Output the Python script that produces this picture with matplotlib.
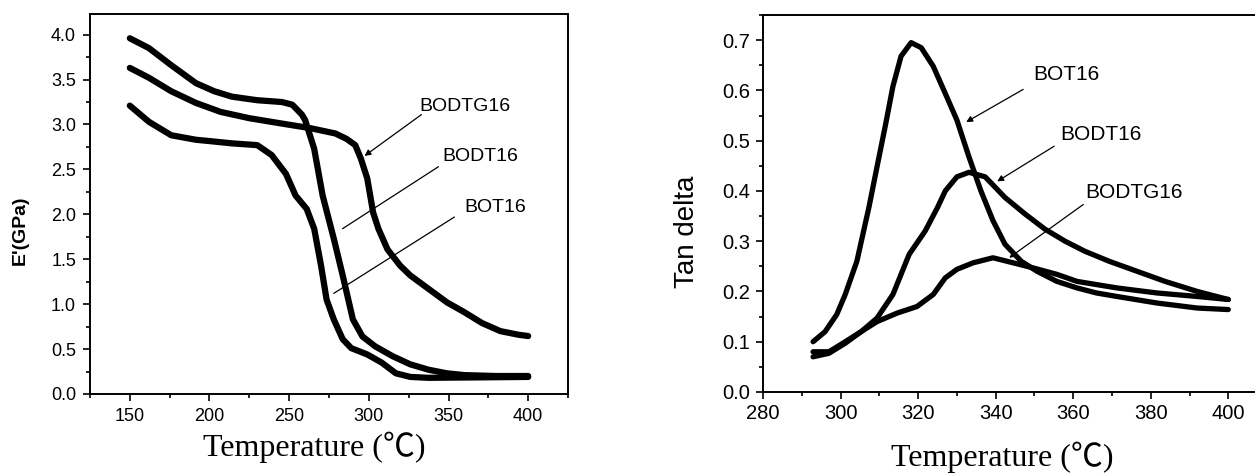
#!/usr/bin/env python3

import numpy as np
import matplotlib
matplotlib.use("Agg")
import matplotlib.pyplot as plt
from matplotlib.ticker import MultipleLocator, FormatStrFormatter

# ---- storage modulus E' (GPa) vs temperature (C) ----
bodt16_t = [150, 162, 176, 191.5, 203, 214, 230, 245.5, 252, 258, 260, 265.7,
            271, 278, 283.6, 290, 296, 304, 315, 326, 337.5, 349, 360, 380, 400]
bodt16_e = [3.96, 3.85, 3.66, 3.46, 3.37, 3.31, 3.27, 3.25, 3.22, 3.11, 3.05, 2.73,
            2.21, 1.73, 1.32, 0.83, 0.64, 0.53, 0.42, 0.33, 0.27, 0.23, 0.21, 0.20, 0.20]

bodtg16_t = [150, 162, 176, 191.5, 207, 225, 245.5, 263, 279, 286, 291.5, 295,
             299, 302.7, 306, 311.7, 319.6, 326, 337.5, 349, 360, 371, 382.5, 393.7, 400]
bodtg16_e = [3.63, 3.52, 3.37, 3.24, 3.14, 3.07, 3.01, 2.96, 2.90, 2.84, 2.77, 2.62,
             2.40, 2.02, 1.84, 1.61, 1.43, 1.32, 1.17, 1.02, 0.91, 0.79, 0.70, 0.66, 0.645]

bot16_t = [150, 162, 176, 191.5, 203, 214, 230, 239, 248, 254, 261, 265.7, 270,
           273.5, 278, 283.6, 289, 299, 308, 317, 326, 337.5, 370, 400]
bot16_e = [3.21, 3.03, 2.88, 2.83, 2.81, 2.79, 2.77, 2.66, 2.45, 2.21, 2.06, 1.84, 1.43,
           1.05, 0.83, 0.61, 0.51, 0.44, 0.35, 0.23, 0.19, 0.18, 0.185, 0.19]

# ---- tan delta vs temperature ----
tan_bot16_t = [292.9, 296, 299, 301.2, 304.2, 307.3, 309.4, 311.5, 313.5, 315.6, 318.2,
               320.8, 323.9, 327, 330, 333.1, 336.2, 339.3, 342.4, 346.6, 350.7, 355.8,
               361, 366, 371.3, 381.6, 392, 400]
tan_bot16 = [0.10, 0.12, 0.154, 0.194, 0.26, 0.367, 0.448, 0.528, 0.608, 0.668, 0.695,
             0.685, 0.648, 0.594, 0.541, 0.468, 0.40, 0.341, 0.294, 0.26, 0.24, 0.22,
             0.207, 0.197, 0.19, 0.177, 0.167, 0.164]

tan_bodt16_t = [292.9, 297, 301.2, 305.3, 309.4, 313.5, 317.7, 321.8, 325, 327, 330, 333.1,
                337.3, 342.4, 347.6, 352.7, 357.9, 363, 369.3, 376.5, 383.7, 392, 400]
tan_bodt16 = [0.08, 0.08, 0.10, 0.12, 0.147, 0.194, 0.274, 0.32, 0.367, 0.40, 0.428, 0.437,
              0.428, 0.387, 0.354, 0.324, 0.30, 0.28, 0.26, 0.24, 0.22, 0.20, 0.184]

tan_bodtg16_t = [292.9, 297, 301.2, 305.3, 309.4, 314.6, 319.7, 323.9, 327, 330, 334.2,
                 339.3, 344.5, 349.6, 355.8, 361, 371.3, 381.6, 392, 400]
tan_bodtg16 = [0.07, 0.077, 0.097, 0.12, 0.14, 0.157, 0.17, 0.194, 0.227, 0.244, 0.257,
               0.267, 0.257, 0.247, 0.234, 0.22, 0.207, 0.197, 0.19, 0.184]

# label text, text anchor (x, y), line start (x, y), line end (x, y), arrowhead?
left_notes = [
    ("BODTG16", (332, 3.20), (333, 3.11), (297.3, 2.65), True),
    ("BODT16", (346.2, 2.64), (343.7, 2.53), (283.5, 1.84), False),
    ("BOT16", (360, 2.08), (353.7, 1.97), (278, 1.12), False),
]
right_notes = [
    ("BOT16", (349.7, 0.632), (347.1, 0.602), (332.4, 0.537), True),
    ("BODT16", (356.6, 0.513), (355.1, 0.489), (340.4, 0.419), True),
    ("BODTG16", (363.1, 0.397), (362.6, 0.373), (343.5, 0.267), True),
]

SANS = ["Liberation Sans", "DejaVu Sans"]
XLAB = ["Liberation Serif", "Noto Sans CJK SC", "DejaVu Sans"]


def style_axes(ax, tick_size, pad):
    for side in ("left", "bottom", "top", "right"):
        ax.spines[side].set_linewidth(1.4)
    ax.tick_params(which="both", direction="out", top=False, right=False,
                   width=1.2, labelsize=tick_size, pad=pad)
    ax.tick_params(which="major", length=5)
    ax.tick_params(which="minor", length=3)
    for lab in ax.get_xticklabels() + ax.get_yticklabels():
        lab.set_family(SANS)


def add_notes(ax, notes, size):
    for text, txy, start, end, head in notes:
        ax.text(txy[0], txy[1], text, fontsize=size, family=SANS,
                ha="left", va="center")
        ax.annotate("", xy=end, xytext=start,
                    arrowprops=dict(arrowstyle="-|>" if head else "-", lw=0.9,
                                    color="black", mutation_scale=9,
                                    shrinkA=0, shrinkB=0))


def main():
    fig = plt.figure(figsize=(12.55, 4.76), dpi=100)

    # left: storage modulus
    ax1 = fig.add_axes([0.0717, 0.1723, 0.3809, 0.7983])
    for t, e in [(bodt16_t, bodt16_e), (bodtg16_t, bodtg16_e), (bot16_t, bot16_e)]:
        ax1.plot(t, e, color="black", lw=4.5, solid_capstyle="round",
                 solid_joinstyle="round")
    ax1.set_xlim(125, 425)
    ax1.set_ylim(0, 4.23)
    ax1.set_xticks([150, 200, 250, 300, 350, 400])
    ax1.xaxis.set_minor_locator(MultipleLocator(25))
    ax1.yaxis.set_major_locator(MultipleLocator(0.5))
    ax1.yaxis.set_minor_locator(MultipleLocator(0.25))
    ax1.yaxis.set_major_formatter(FormatStrFormatter("%.1f"))
    style_axes(ax1, 13, 5)
    add_notes(ax1, left_notes, 14)

    # right: tan delta (right spine falls just outside the picture)
    ax2 = fig.add_axes([0.608, 0.1765, 0.4016, 0.792])
    for t, d in [(tan_bot16_t, tan_bot16), (tan_bodt16_t, tan_bodt16),
                 (tan_bodtg16_t, tan_bodtg16)]:
        ax2.plot(t, d, color="black", lw=3.8, solid_capstyle="round",
                 solid_joinstyle="round")
    ax2.set_xlim(280, 410)
    ax2.set_ylim(0, 0.75)
    ax2.set_xticks([280, 300, 320, 340, 360, 380, 400])
    ax2.xaxis.set_minor_locator(MultipleLocator(10))
    ax2.yaxis.set_major_locator(MultipleLocator(0.1))
    ax2.yaxis.set_minor_locator(MultipleLocator(0.05))
    ax2.yaxis.set_major_formatter(FormatStrFormatter("%.1f"))
    style_axes(ax2, 14.5, 4)
    add_notes(ax2, right_notes, 15)

    # axis titles placed like the original
    fig.text(20 / 1255, 1 - 230 / 476, "E'(GPa)", rotation=90, fontsize=14,
             fontweight="bold", family=SANS, ha="center", va="center")
    fig.text(687 / 1255, 1 - 232 / 476, "Tan delta", rotation=90, fontsize=20,
             family=SANS, ha="center", va="center")
    fig.text(314 / 1255, 1 - 447 / 476, "Temperature (℃)", fontsize=23,
             family=XLAB, ha="center", va="center")
    fig.text(1002 / 1255, 1 - 457 / 476, "Temperature (℃)", fontsize=23,
             family=XLAB, ha="center", va="center")

    fig.savefig("out.png", dpi=100)


if __name__ == "__main__":
    main()
